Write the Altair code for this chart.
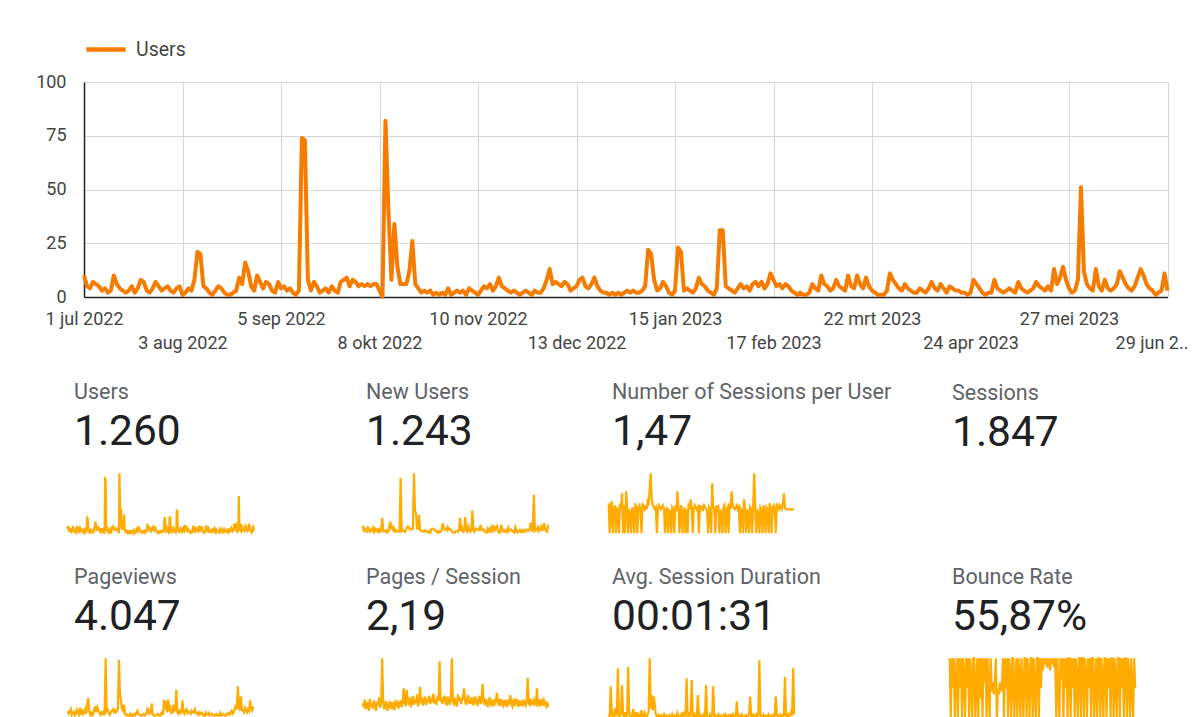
import json
import pandas as pd
import altair as alt

START = "2022-07-01"
END = "2023-06-29"

# Daily users, 1 jul 2022 .. 29 jun 2023
users = [
    10, 5, 4, 7, 6, 5, 3, 4, 2, 3,
    10, 6, 4, 3, 2, 3, 5, 2, 4, 8,
    7, 3, 2, 4, 7, 5, 3, 4, 5, 3,
    2, 4, 5, 1, 2, 4, 3, 8, 21, 20,
    5, 4, 2, 1, 3, 5, 4, 2, 1, 1,
    2, 3, 9, 6, 16, 12, 5, 3, 10, 7,
    4, 7, 6, 3, 2, 7, 4, 5, 3, 4,
    2, 1, 3, 74, 73, 8, 3, 7, 5, 2,
    3, 4, 2, 5, 3, 2, 7, 8, 9, 5,
    8, 7, 5, 6, 5, 6, 5, 6, 6, 3,
    0, 82, 40, 8, 34, 14, 6, 6, 6, 12,
    26, 6, 4, 2, 3, 2, 3, 1, 2, 1,
    2, 1, 4, 1, 2, 3, 2, 3, 1, 4,
    3, 2, 1, 3, 5, 4, 6, 3, 5, 9,
    5, 4, 3, 2, 3, 2, 1, 2, 3, 2,
    1, 3, 2, 2, 4, 8, 13, 6, 7, 6,
    5, 7, 6, 3, 4, 5, 8, 9, 5, 4,
    6, 9, 5, 3, 2, 2, 1, 2, 1, 2,
    1, 2, 3, 2, 3, 2, 2, 3, 5, 22,
    20, 8, 3, 4, 7, 5, 2, 1, 3, 23,
    21, 3, 4, 3, 2, 4, 9, 6, 5, 3,
    2, 1, 4, 31, 31, 5, 4, 3, 2, 4,
    6, 4, 5, 3, 6, 7, 5, 7, 4, 6,
    11, 8, 5, 6, 4, 6, 5, 3, 2, 1,
    2, 1, 1, 2, 6, 4, 3, 10, 6, 5,
    3, 4, 8, 5, 4, 3, 10, 5, 4, 10,
    6, 4, 9, 5, 3, 2, 1, 1, 1, 3,
    11, 8, 6, 4, 3, 6, 4, 3, 2, 2,
    4, 3, 2, 4, 7, 4, 3, 6, 4, 2,
    5, 4, 3, 3, 2, 2, 1, 2, 8, 6,
    4, 2, 1, 2, 2, 8, 4, 3, 2, 3,
    4, 3, 2, 7, 4, 3, 2, 3, 4, 7,
    5, 4, 3, 5, 3, 13, 6, 9, 14, 8,
    4, 2, 3, 8, 51, 12, 6, 4, 3, 13,
    5, 3, 8, 4, 3, 4, 6, 12, 9, 6,
    4, 3, 5, 9, 13, 10, 6, 4, 3, 1,
    2, 3, 11, 3,
]

# Two-day samples for the small scorecard sparklines
new_users = [
    10, 4, 6, 3, 2, 9, 4, 2, 5, 4, 7, 2, 6, 3, 5, 2, 5, 2, 3, 20,
    5, 2, 3, 4, 1, 2, 9, 15, 5, 10, 4, 6, 2, 4, 3, 2, 3, 72, 3, 5,
    3, 2, 3, 7, 9, 8, 5, 5, 5, 6, 78, 30, 26, 6, 6, 24, 4, 3, 3, 2,
    2, 4, 2, 2, 1, 3, 1, 5, 6, 5, 5, 3, 3, 1, 3, 1, 2, 4, 13, 7,
    5, 6, 4, 8, 5, 6, 5, 2, 1, 1, 1, 3, 3, 2, 5, 20, 3, 7, 2, 3,
    21, 4, 2, 9, 5, 2, 4, 30, 4, 2, 6, 5, 6, 5, 4, 11, 5, 4, 5, 2,
    2, 1, 6, 3, 6, 3, 8, 4, 10, 4, 6, 9, 3, 1, 1, 11, 6, 3, 4, 2,
    4, 2, 7, 3, 4, 5, 3, 2, 1, 8, 4, 1, 2, 4, 2, 4, 2, 4, 2, 4,
    5, 3, 3, 6, 14, 4, 3, 50, 6, 3, 5, 8, 3, 6, 9, 4, 5, 13, 6, 3,
    2, 11,
]
sessions_per_user = [
    1.5, 0, 1.3, 1.6, 0, 1.2, 1.4, 0, 1.3, 1.0,
    0, 1.5, 1.2, 2.0, 0, 1.4, 0, 2.1, 1.3, 0,
    1.2, 1.0, 0, 1.3, 1.1, 0, 1.5, 1.2, 0, 1.3,
    1.4, 1.2, 0, 1.5, 1.3, 1.2, 1.4, 1.2, 1.6, 1.5,
    2.2, 3.0, 1.7, 1.4, 1.3, 1.2, 1.3, 0, 1.2, 1.4,
    1.3, 1.2, 1.3, 1.4, 1.2, 0, 1.1, 1.3, 0, 1.2,
    1.0, 0, 1.3, 1.2, 0, 1.4, 1.1, 2.1, 1.3, 0,
    1.2, 1.4, 0, 1.0, 1.3, 0, 1.2, 0, 1.5, 1.2,
    1.7, 1.3, 0, 1.2, 1.4, 1.3, 1.2, 1.3, 0, 1.4,
    1.2, 1.3, 1.2, 1.4, 1.3, 1.2, 1.1, 0, 1.3, 1.2,
    0, 2.5, 1.3, 1.2, 0, 1.4, 1.2, 1.3, 0, 1.2,
    1.0, 0, 1.3, 1.4, 0, 1.2, 1.3, 0, 1.5, 1.2,
    2.1, 1.4, 1.3, 1.2, 1.3, 1.4, 1.2, 1.3, 0, 1.2,
    1.1, 0, 1.7, 1.3, 0, 1.2, 1.0, 0, 1.3, 1.2,
    0, 1.4, 3.0, 1.3, 0, 1.2, 1.0, 0, 1.3, 1.2,
    0, 1.4, 1.1, 0, 1.3, 1.2, 0, 1.5, 1.2, 0,
    1.3, 1.4, 1.2, 0, 1.5, 1.3, 1.2, 1.4, 1.3, 1.2,
    1.5, 2.0, 1.3, 1.2, 1.2, 1.2, 1.2, 1.2, 1.2, 1.2,
    1.2, 1.2,
]
pageviews = [
    25, 15, 20, 30, 12, 18, 22, 10, 15, 28,
    20, 12, 35, 18, 25, 14, 20, 30, 15, 45,
    68, 25, 12, 18, 10, 15, 30, 40, 20, 35,
    25, 18, 12, 20, 15, 22, 10, 200, 25, 30,
    18, 12, 20, 25, 30, 22, 28, 20, 25, 30,
    195, 80, 60, 30, 25, 45, 15, 10, 12, 8,
    10, 15, 8, 12, 6, 14, 10, 18, 25, 15,
    12, 10, 8, 12, 15, 10, 12, 20, 35, 18,
    15, 20, 50, 12, 10, 8, 10, 12, 15, 10,
    8, 15, 20, 12, 62, 30, 58, 20, 62, 25,
    35, 18, 20, 45, 25, 30, 95, 20, 15, 25,
    18, 22, 60, 20, 15, 25, 30, 18, 22, 20,
    15, 25, 20, 18, 30, 22, 15, 18, 12, 20,
    15, 18, 10, 12, 8, 20, 15, 12, 18, 10,
    12, 15, 10, 8, 12, 15, 10, 12, 8, 18,
    10, 12, 15, 10, 8, 12, 18, 15, 12, 20,
    25, 15, 20, 30, 45, 30, 107, 40, 25, 73,
    30, 25, 20, 35, 28, 20, 30, 25, 60, 30,
    25, 40,
]
pages_per_session = [
    2.0, 1.5, 2.5, 1.2, 1.8, 2.2, 1.0, 2.6, 1.5, 2.0,
    1.3, 2.4, 1.6, 1.0, 2.2, 1.8, 2.8, 1.4, 2.0, 8.0,
    2.5, 1.2, 1.8, 2.3, 1.0, 1.6, 2.0, 1.3, 2.2, 1.5,
    1.8, 1.1, 2.4, 1.6, 2.0, 1.3, 1.9, 2.4, 1.5, 2.2,
    4.0, 2.0, 1.6, 3.8, 2.4, 1.8, 2.8, 1.5, 2.2, 3.0,
    1.8, 2.5, 2.0, 3.2, 1.6, 2.4, 4.2, 2.0, 2.8, 1.7,
    2.3, 2.9, 1.8, 2.6, 2.2, 3.0, 1.9, 2.7, 2.1, 3.3,
    2.0, 2.6, 1.8, 3.0, 2.4, 7.6, 2.2, 2.8, 1.9, 2.5,
    3.0, 2.2, 1.7, 2.9, 2.4, 1.8, 2.6, 8.0, 2.2, 1.9,
    2.7, 2.0, 1.6, 3.2, 2.3, 2.8, 1.9, 2.4, 3.0, 4.0,
    2.2, 1.8, 2.6, 3.1, 1.9, 2.4, 2.0, 2.8, 1.7, 2.3,
    2.9, 2.0, 1.8, 2.5, 3.0, 1.9, 2.4, 4.6, 2.2, 1.8,
    2.6, 2.0, 1.5, 2.3, 2.8, 1.9, 2.2, 1.6, 2.5, 2.0,
    2.4, 3.4, 1.8, 2.2, 1.6, 2.6, 2.0, 1.7, 2.4, 1.9,
    2.2, 1.5, 2.5, 1.8, 3.1, 2.0, 1.6, 2.3, 1.9, 2.6,
    1.8, 2.2, 1.5, 2.4, 1.9, 2.1, 1.6, 2.5, 2.0, 1.7,
    2.3, 5.4, 2.0, 1.8, 2.6, 2.2, 1.7, 2.4, 2.0, 1.8,
    4.0, 2.2, 1.6, 2.5, 1.9, 2.3, 1.7, 2.4, 2.0, 1.6,
    2.2, 1.5,
]
avg_session_seconds = [
    60, 20, 480, 90, 0, 40, 150, 30, 80, 750,
    40, 0, 110, 500, 60, 20, 90, 0, 50, 770,
    80, 30, 0, 60, 140, 20, 0, 90, 40, 60,
    0, 30, 120, 50, 0, 80, 40, 20, 60, 100,
    900, 150, 350, 120, 330, 200, 60, 30, 0, 50,
    20, 40, 0, 30, 60, 10, 40, 0, 20, 50,
    30, 0, 60, 20, 40, 0, 30, 80, 20, 0,
    40, 60, 20, 100, 30, 50, 600, 40, 60, 20,
    90, 575, 30, 0, 60, 40, 20, 350, 30, 50,
    0, 40, 20, 60, 30, 500, 40, 20, 0, 60,
    30, 50, 480, 20, 40, 0, 30, 60, 20, 40,
    0, 30, 50, 20, 60, 30, 0, 40, 20, 50,
    30, 60, 20, 40, 0, 250, 30, 50, 20, 40,
    60, 20, 0, 30, 50, 20, 40, 60, 325, 30,
    20, 50, 0, 30, 60, 20, 40, 870, 60, 30,
    20, 50, 0, 40, 30, 20, 60, 40, 0, 30,
    50, 20, 40, 325, 60, 30, 20, 50, 0, 40,
    60, 30, 620, 40, 20, 60, 30, 50, 100, 40,
    750, 60,
]
bounce_rate = [
    100, 0, 100, 50, 100, 0, 67, 100, 0, 100,
    50, 100, 0, 100, 75, 0, 100, 50, 100, 0,
    100, 67, 0, 100, 100, 0, 50, 100, 0, 100,
    33, 100, 0, 100, 60, 100, 0, 100, 50, 0,
    100, 45, 60, 40, 55, 100, 0, 50, 40, 60,
    45, 55, 100, 0, 100, 50, 100, 0, 100, 67,
    0, 100, 100, 0, 50, 100, 0, 100, 75, 0,
    100, 50, 0, 100, 100, 0, 100, 67, 0, 100,
    100, 0, 100, 50, 0, 100, 100, 0, 100, 50,
    100, 80, 100, 90, 100, 85, 100, 95, 80, 100,
    90, 100, 85, 100, 0, 100, 50, 0, 100, 67,
    100, 0, 100, 50, 100, 0, 100, 100, 0, 100,
    50, 100, 0, 100, 67, 0, 100, 100, 0, 100,
    100, 0, 100, 75, 0, 100, 50, 100, 0, 100,
    100, 0, 50, 100, 0, 100, 100, 0, 100, 67,
    0, 100, 100, 0, 100, 50, 100, 0, 100, 100,
    0, 100, 67, 0, 100, 100, 0, 100, 50, 100,
    0, 100, 100, 0, 100, 67, 0, 100, 50, 0,
    100, 50,
]

tick_dates = ["2022-07-01", "2022-08-03", "2022-09-05", "2022-10-08", "2022-11-10",
              "2022-12-13", "2023-01-15", "2023-02-17", "2023-03-22", "2023-04-24",
              "2023-05-27", "2023-06-29"]
tick_labels = ["1 jul 2022", "3 aug 2022", "5 sep 2022", "8 okt 2022", "10 nov 2022",
               "13 dec 2022", "15 jan 2023", "17 feb 2023", "22 mrt 2023", "24 apr 2023",
               "27 mei 2023", "29 jun 2023"]
y_ticks = [0, 25, 50, 75, 100]

row1 = [("Users", "1.260", "users"), ("New Users", "1.243", "new_users"),
        ("Number of Sessions per User", "1,47", "spu"), ("Sessions", "1.847", None)]
row2 = [("Pageviews", "4.047", "pv"), ("Pages / Session", "2,19", "pps"),
        ("Avg. Session Duration", "00:01:31", "asd"), ("Bounce Rate", "55,87%", "br")]

ORANGE = "#f57c00"
SPARK = "#ffab00"
GRID = "#d6d6d6"
FONT = "Roboto"


def ms(d):
    return int(pd.Timestamp(d, tz="UTC").value // 10**6)


MS0, MS1 = ms(START), ms(END)
daily = pd.date_range(START, periods=len(users), freq="D").strftime("%Y-%m-%d")
two_day = lambda n: pd.date_range(START, periods=n, freq="2D").strftime("%Y-%m-%d")

series = {
    "users": pd.DataFrame({"date": daily, "v": users}),
    "new_users": pd.DataFrame({"date": two_day(len(new_users)), "v": new_users}),
    "spu": pd.DataFrame({"date": two_day(len(sessions_per_user)), "v": sessions_per_user}),
    "pv": pd.DataFrame({"date": two_day(len(pageviews)), "v": pageviews}),
    "pps": pd.DataFrame({"date": two_day(len(pages_per_session)), "v": pages_per_session}),
    "asd": pd.DataFrame({"date": two_day(len(avg_session_seconds)), "v": avg_session_seconds}),
    "br": pd.DataFrame({"date": two_day(len(bounce_rate)), "v": bounce_rate}),
}

# ---------- main chart ----------
tick_ms = [ms(d) for d in tick_dates]
vals = json.dumps(tick_ms)
labs = json.dumps(tick_labels)
idx = f"indexof({vals}, time(datum.value))"
txt = (f"({idx} == {len(tick_ms) - 1} ? truncate({labs}[{idx}], 10, 'right', '..')"
       f" : {labs}[{idx}])")
label_expr = f"{idx} % 2 == 1 ? ['', {txt}] : {txt}"
last_offset = {"condition": {"test": f"time(datum.value) == {tick_ms[-1]}", "value": -16},
               "value": 0}

main_df = pd.DataFrame({"date": daily, "users": users, "series": "Users"})
main = alt.Chart(main_df).mark_line(strokeWidth=4, strokeJoin="round").encode(
    x=alt.X("date:T",
            scale=alt.Scale(type="utc", domain=[MS0, MS1]),
            axis=alt.Axis(values=tick_ms, labelExpr=label_expr, title=None, grid=True,
                          gridColor=GRID, domainColor="#222222", domainWidth=1.5,
                          ticks=False, labelFontSize=18, labelColor="#444444", labelFont=FONT,
                          labelPadding=13, labelBaseline="top", labelLineHeight=24,
                          labelOverlap=False, labelFlush=False, labelAlign="center",
                          labelOffset=last_offset)),
    y=alt.Y("users:Q",
            scale=alt.Scale(domain=[0, 100], nice=False),
            axis=alt.Axis(values=y_ticks, title=None, grid=True, gridColor=GRID,
                          domainColor="#222222", domainWidth=1.5, ticks=False,
                          labelFontSize=18, labelColor="#444444", labelFont=FONT,
                          labelPadding=18)),
    color=alt.Color("series:N",
                    scale=alt.Scale(domain=["Users"], range=[ORANGE]),
                    legend=alt.Legend(orient="none", legendX=0, legendY=-54.4, title=None,
                                      symbolType="stroke", symbolSize=1550,
                                      symbolStrokeWidth=4.5, labelFontSize=19.5,
                                      labelColor="#444444", labelFont=FONT,
                                      labelOffset=8, padding=0)),
).properties(width=1083.5, height=215)

# ---------- scorecards ----------
CARD_W = [295, 245.5, 340.5, 186]
CARD_DX = [-10, -13, -13, -14]
SPARK_RANGE = [-16.3, 169.7]


def card(title, value, key, width, dx):
    extra = {} if key is not None else {"dy": -3}
    tp = alt.TitleParams(text=title, subtitle=value, anchor="start", frame="group", dx=dx,
                         offset=15.6, font=FONT, fontSize=21.5, fontWeight="normal",
                         color="#5f6368", subtitleFont=FONT, subtitleFontSize=42.5,
                         subtitleColor="#202124", subtitlePadding=7.6, **extra)
    if key is None:
        ch = alt.Chart(pd.DataFrame({"v": [0]})).mark_point(opacity=0)
    else:
        ch = alt.Chart(series[key]).mark_line(color=SPARK, strokeWidth=2.2).encode(
            x=alt.X("date:T", scale=alt.Scale(type="utc", domain=[MS0, MS1],
                                              range=SPARK_RANGE), axis=None),
            y=alt.Y("v:Q", scale=alt.Scale(zero=True, nice=False), axis=None),
        )
    return ch.properties(width=width, height=60, title=tp)


r1 = alt.hconcat(*[card(t, v, k, w, d) for (t, v, k), w, d in zip(row1, CARD_W, CARD_DX)],
                 spacing=0, bounds="flush")
r2 = alt.hconcat(*[card(t, v, k, w, d) for (t, v, k), w, d in zip(row2, CARD_W, CARD_DX)],
                 spacing=0, bounds="flush")
cards = alt.vconcat(r1, r2, spacing=185, bounds="flush")

chart = alt.vconcat(main, cards, spacing=176.3, bounds="flush").properties(
    padding={"left": 27, "top": 19, "right": 0, "bottom": 0}
).configure(font=FONT, view=alt.ViewConfig(stroke=None))

chart.save("out.html", embed_options={"renderer": "svg", "actions": False})
